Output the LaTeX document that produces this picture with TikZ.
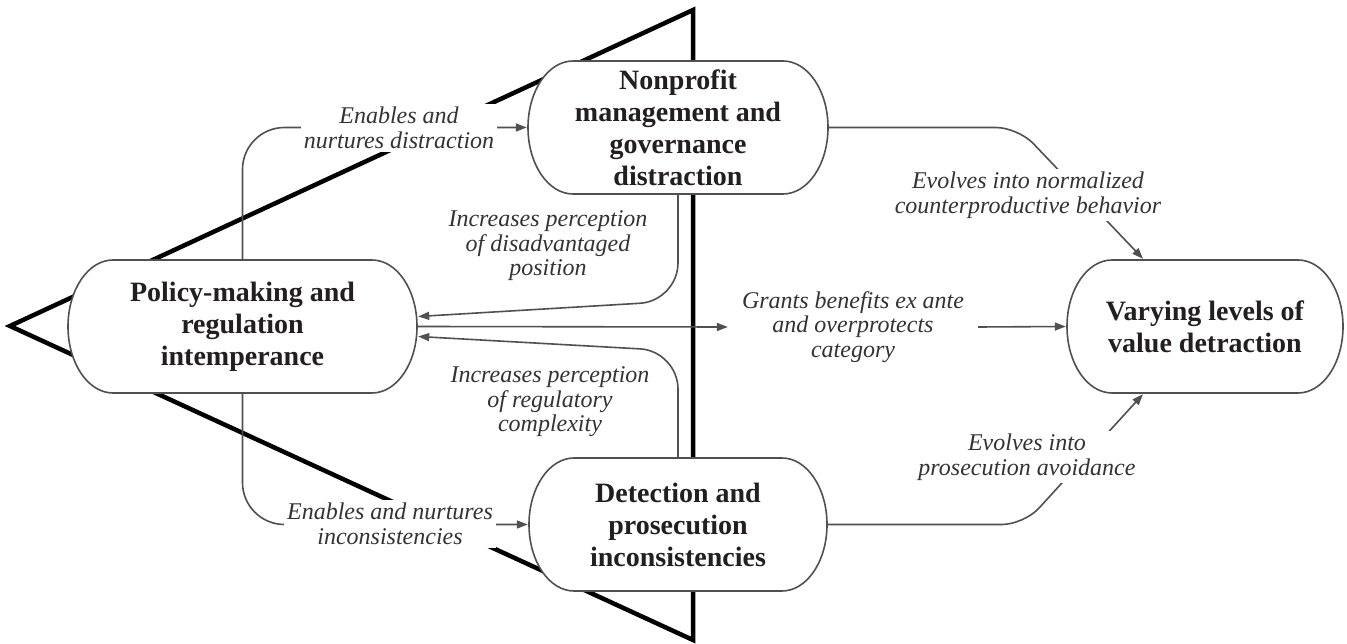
\documentclass[tikz,border=0pt]{standalone}
\usepackage{fontspec}
\setmainfont{Liberation Serif}
\usetikzlibrary{arrows.meta,calc,backgrounds}
\definecolor{edge}{HTML}{505050}
\definecolor{txt}{HTML}{231F20}
\definecolor{ltxt}{HTML}{333333}
\begin{document}
\begin{tikzpicture}[x=1pt,y=1pt,
  box/.style={minimum height=135pt, inner sep=0pt, align=center, text=txt,
    font=\fontsize{28}{32}\selectfont\bfseries,
    path picture={\filldraw[fill=white,draw=edge,line width=1.6pt]
      ($(path picture bounding box.north west)+(46,-1)$) --
      ($(path picture bounding box.north east)+(-46,-1)$)
      arc[start angle=90,end angle=-90,x radius=45pt,y radius=66.5pt] --
      ($(path picture bounding box.south west)+(46,1)$)
      arc[start angle=270,end angle=90,x radius=45pt,y radius=66.5pt] -- cycle;}},
  lab/.style={fill=white, inner sep=3pt, align=center, text=ltxt,
    font=\fontsize{24}{24.5}\selectfont\itshape},
  conn/.style={draw=edge, line width=1.6pt},
  arr/.style={conn, -{Triangle[length=11pt,width=8pt]}},
  tri/.style={draw=black, line width=4.5pt, line join=miter}
]
\useasboundingbox (0,0) rectangle (1347,-644);

% nodes
\node[box, minimum width=302pt] (np) at (678,-127.5) {Nonprofit\\management and\\governance\\distraction};
\node[box, minimum width=351pt] (pol) at (242.5,-326.5) {Policy-making and\\regulation\\intemperance};
\node[box, minimum width=300pt] (det) at (678,-524.5) {Detection and\\prosecution\\inconsistencies};
\node[box, minimum width=278pt] (var) at (1205,-326.5) {Varying levels of\\value detraction};

% grants label (connectors end at it)
\node[lab, inner xsep=14pt] (gr) at (853,-327) {Grants benefits ex ante\\and overprotects\\category};

% bend points
\coordinate (k1) at (678,-301);
\coordinate (k2) at (678,-351);
\coordinate (k3) at (1018,-127.5);
\coordinate (k4) at (1024,-524.5);

% background: triangle
\begin{scope}[on background layer]
  \fill[white] (0,0) rectangle (1347,-644);
  \coordinate (t1) at (10,-326);
  \coordinate (t2) at (693,-10);
  \coordinate (t3) at (693,-640);
  \draw[tri] (t1) -- (t2) -- (t3) -- cycle;
\end{scope}

% connectors
\draw[arr, rounded corners=42pt] (pol.north) |- (np.west);
\draw[arr, rounded corners=42pt] (pol.south) |- (det.west);
\draw[arr, rounded corners=38pt] (np.south) -- (k1) -- ($(pol.east)+(0,10)$);
\draw[arr, rounded corners=38pt] (det.north) -- (k2) -- ($(pol.east)+(0,-10)$);
\draw[arr] (pol.east) -- (gr.west);
\draw[arr] (gr.east) -- (var.west);
\draw[arr, rounded corners=22pt] (np.east) -- (k3) -- ($(var.north)+(-62,0)$);
\draw[arr, rounded corners=22pt] (det.east) -- (k4) -- ($(var.south)+(-62,0)$);

% labels
\node[lab] (l1) at (399,-128) {Enables and\\nurtures distraction};
\node[lab] (l2) at (390,-524) {Enables and nurtures\\inconsistencies};
\node[lab] (l3) at (548,-246) {Increases perception\\of disadvantaged\\position};
\node[lab] (l4) at (550,-402) {Increases perception\\of regulatory\\complexity};
\node[lab] (l6) at (1028,-195) {Evolves into normalized\\counterproductive behavior};
\node[lab] (l7) at (1027,-457) {Evolves into\\prosecution avoidance};
\end{tikzpicture}
\end{document}
